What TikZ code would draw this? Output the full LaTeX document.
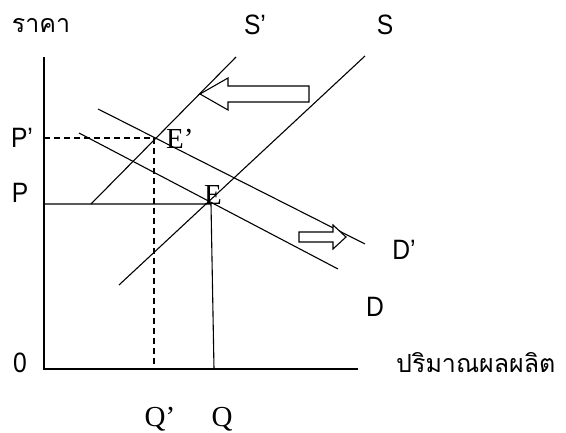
\documentclass[tikz,border=0pt]{standalone}
\usepackage{fontspec}
\setmainfont{Liberation Sans}
\newfontfamily\thaifont[Script=Thai]{Loma}
\newfontfamily\seriffont{Liberation Serif}
\begin{document}
\begin{tikzpicture}[x=1pt,y=-1pt,
  lbl/.style={inner sep=0pt, xscale=0.88, font=\fontsize{28}{30}\selectfont},
  thai/.style={inner sep=0pt, font=\thaifont\fontsize{25}{28}\selectfont},
  ser/.style={inner sep=0pt, font=\seriffont\fontsize{29}{31}\selectfont},
  axis/.style={line width=1.6pt},
  curve/.style={line width=1.1pt},
  guide/.style={line width=1.1pt, dash pattern=on 6pt off 4pt},
  hollow/.style={draw, line width=1.1pt, fill=white, line join=miter}]
\useasboundingbox (0,0) rectangle (566,433);

% axes
\coordinate (O) at (44,369);
\coordinate (ytop) at (44,57);
\coordinate (xend) at (358,369);
\draw[axis] (ytop) -- (O) -- (xend);

% key points
\coordinate (Pl) at (44,204);
\coordinate (Eq) at (211,204);
\coordinate (Qb) at (214,369);
\coordinate (Ppl) at (44,138);
\coordinate (Ep) at (154,138);
\coordinate (Qpb) at (154,365);

% supply curves
\coordinate (Sp1) at (91,204);
\coordinate (Sp2) at (236,57);
\coordinate (S1) at (119,285);
\coordinate (S2) at (365,56);
\draw[curve] (Sp1) -- (Sp2);
\draw[curve] (S1) -- (S2);

% demand curves
\coordinate (D1) at (79,133);
\coordinate (D2) at (338,269);
\coordinate (Dp1) at (98,109);
\coordinate (Dp2) at (365,244);
\draw[curve] (D1) -- (D2);
\draw[curve] (Dp1) -- (Dp2);

% equilibrium guides
\draw[curve] (Pl) -- (Eq) -- (Qb);
\draw[guide] (Ppl) -- (Ep) -- (Qpb);

% shift arrows
\draw[hollow] (200,94) -- (228,78) -- (228,86) -- (309,86) -- (309,102) -- (228,102) -- (228,110) -- cycle;
\draw[hollow] (299,232) -- (333,232) -- (333,225) -- (346,237) -- (333,249) -- (333,242) -- (299,242) -- cycle;

% labels
\node[thai] (ylab) at (41,26) {ราคา};
\node[lbl] (lSp) at (255,25) {S’};
\node[lbl] (lS) at (385,25) {S};
\node[lbl] (lPp) at (22,138) {P’};
\node[lbl] (lP) at (20,193) {P};
\node[lbl] (l0) at (20,363) {0};
\node[ser, anchor=west] (lEp) at (166,139) {E’};
\node[ser, anchor=west] (lE) at (204,195) {E};
\node[lbl] (lDp) at (404,250) {D’};
\node[lbl] (lD) at (375,307) {D};
\node[ser] (lQp) at (160,419) {Q’};
\node[ser] (lQ) at (222,419) {Q};
\node[thai, anchor=west] (xlab) at (396,363) {ปริมาณผลผลิต};
\end{tikzpicture}
\end{document}
